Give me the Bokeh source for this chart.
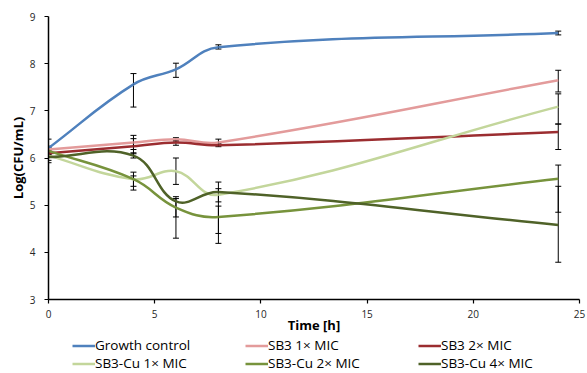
import math
from bokeh.plotting import figure
from bokeh.layouts import column
from bokeh.models import (ColumnDataSource, Whisker, TeeHead, Legend, LegendItem,
                          FixedTicker, Range1d)
from bokeh.embed import file_html
from bokeh.resources import INLINE

# ---------------- data ----------------
times = [0, 4, 6, 8, 24]
series_names = ["Growth control", "SB3 1× MIC", "SB3 2× MIC",
                "SB3-Cu 1× MIC", "SB3-Cu 2× MIC", "SB3-Cu 4× MIC"]

growth = [6.21, 7.56, 7.88, 8.35, 8.65]
sb3_1x = [6.18, 6.33, 6.40, 6.33, 7.65]
sb3_2x = [6.10, 6.25, 6.33, 6.27, 6.55]
cu_1x = [6.05, 5.55, 5.72, 5.22, 7.09]
cu_2x = [6.15, 5.55, 4.95, 4.75, 5.56]
cu_4x = [6.02, 6.05, 5.08, 5.28, 4.58]

growth_up = [6.40, 7.79, 8.01, 8.40, 8.69]
growth_lo = [6.02, 7.08, 7.71, 8.31, 8.61]
sb3_1x_up = [6.25, 6.48, 6.43, 6.40, 7.86]
sb3_1x_lo = [6.11, 6.18, 6.37, 6.27, 7.40]
sb3_2x_up = [6.16, 6.41, 6.36, 6.31, 6.72]
sb3_2x_lo = [6.04, 6.09, 6.27, 6.24, 6.18]
cu_1x_up = [6.10, 5.70, 6.00, 5.35, 7.36]
cu_1x_lo = [5.95, 5.40, 5.44, 4.40, 6.72]
cu_2x_up = [6.22, 5.62, 5.14, 4.98, 5.85]
cu_2x_lo = [6.08, 5.32, 4.75, 4.19, 4.85]
cu_4x_up = [6.08, 6.11, 5.18, 5.49, 5.40]
cu_4x_lo = [5.90, 6.00, 4.30, 5.07, 3.79]

x_ticks = [0, 5, 10, 15, 20, 25]
y_ticks = [3, 4, 5, 6, 7, 8, 9]

colors = ["#4F81BD", "#E39B9B", "#9B2D30", "#C3D69B", "#77933C", "#4F6228"]

values = [growth, sb3_1x, sb3_2x, cu_1x, cu_2x, cu_4x]
uppers = [growth_up, sb3_1x_up, sb3_2x_up, cu_1x_up, cu_2x_up, cu_4x_up]
lowers = [growth_lo, sb3_1x_lo, sb3_2x_lo, cu_1x_lo, cu_2x_lo, cu_4x_lo]

# ---------------- main figure ----------------
W = 587
H_MAIN, H_LEG = 336, 37
ML, MR, MT, MB = 48, 8, 16, 36
p = figure(width=W, height=H_MAIN, x_range=Range1d(0, 25), y_range=Range1d(3, 9),
           output_backend="svg", toolbar_location=None,
           min_border_left=ML, min_border_right=MR, min_border_top=MT,
           min_border_bottom=MB)
p.outline_line_color = None
p.xgrid.visible = False
p.ygrid.visible = False
p.background_fill_color = "white"
p.border_fill_color = "white"

# pixel scale factors (for smoothing geometry only)
SX = (W - ML - MR) / 25.0
SY = (H_MAIN - MT - MB) / 6.0


def smooth_segments(xs, ys, k=0.4):
    P = [(x * SX, y * SY) for x, y in zip(xs, ys)]
    n = len(P)
    out = {k_: [] for k_ in ["x0", "y0", "x1", "y1", "cx0", "cy0", "cx1", "cy1"]}
    for i in range(n - 1):
        p0 = P[i - 1] if i > 0 else P[i]
        p1 = P[i]
        p2 = P[i + 1]
        p3 = P[i + 2] if i + 2 < n else P[i + 1]
        d01 = math.dist(p0, p1)
        d12 = math.dist(p1, p2)
        d23 = math.dist(p2, p3)
        f1 = k * d12 / (d01 + d12) if (d01 + d12) > 0 else 0
        f2 = k * d12 / (d12 + d23) if (d12 + d23) > 0 else 0
        c1 = (p1[0] + (p2[0] - p0[0]) * f1, p1[1] + (p2[1] - p0[1]) * f1)
        c2 = (p2[0] - (p3[0] - p1[0]) * f2, p2[1] - (p3[1] - p1[1]) * f2)
        out["x0"].append(p1[0] / SX); out["y0"].append(p1[1] / SY)
        out["x1"].append(p2[0] / SX); out["y1"].append(p2[1] / SY)
        out["cx0"].append(c1[0] / SX); out["cy0"].append(c1[1] / SY)
        out["cx1"].append(c2[0] / SX); out["cy1"].append(c2[1] / SY)
    return out


for vals, col in zip(values, colors):
    src = ColumnDataSource(smooth_segments(times, vals))
    p.bezier(x0="x0", y0="y0", x1="x1", y1="y1", cx0="cx0", cy0="cy0",
             cx1="cx1", cy1="cy1", source=src, line_color=col, line_width=2.5)

for up, lo in zip(uppers, lowers):
    esrc = ColumnDataSource(dict(x=times, upper=up, lower=lo))
    w = Whisker(base="x", upper="upper", lower="lower", source=esrc,
                line_color="black", line_width=1,
                upper_head=TeeHead(size=6, line_color="black", line_width=1),
                lower_head=TeeHead(size=6, line_color="black", line_width=1))
    p.add_layout(w)

# axes
for ax in (p.xaxis[0], p.yaxis[0]):
    ax.axis_line_color = "black"
    ax.axis_line_width = 1.5
    ax.major_tick_line_color = "black"
    ax.major_tick_line_width = 1.2
    ax.major_tick_out = 4
    ax.major_tick_in = 0
    ax.minor_tick_line_color = None
    ax.major_label_text_font = "Open Sans"
    ax.major_label_text_font_size = "10px"
    ax.major_label_text_color = "#262626"
    ax.axis_label_text_font = "Open Sans"
    ax.axis_label_text_font_size = "13px"
    ax.axis_label_text_font_style = "bold"
    ax.axis_label_text_color = "black"

p.xaxis.ticker = FixedTicker(ticks=x_ticks)
p.yaxis.ticker = FixedTicker(ticks=y_ticks)
p.xaxis.axis_label = "Time [h]"
p.yaxis.axis_label = "Log(CFU/mL)"
p.xaxis.major_label_standoff = 6
p.yaxis.major_label_standoff = 9
p.xaxis.axis_label_standoff = -5
p.yaxis.axis_label_standoff = 0

# ---------------- legend strip ----------------
pl = figure(width=W, height=H_LEG, x_range=Range1d(0, 1), y_range=Range1d(0, 1),
            output_backend="svg", toolbar_location=None, min_border=0,
            x_axis_type=None, y_axis_type=None)
pl.outline_line_color = None
pl.xgrid.visible = False
pl.ygrid.visible = False
pl.border_fill_color = "white"

# legend-key renderers (kept outside the visible range of this strip)
leg_renderers = [pl.line(x=[-2, -1], y=[-2, -2], line_color=c, line_width=2.5)
                 for c in colors]

legend = Legend(
    items=[LegendItem(label=n, renderers=[r]) for n, r in zip(series_names, leg_renderers)],
    location=(24, 1), orientation="horizontal", ncols=3,
    label_text_font="Open Sans", label_text_font_size="13.5px", label_text_color="black",
    glyph_width=23, glyph_height=17, label_height=17, label_standoff=0,
    label_width=150, spacing=0, padding=0, margin=0,
    border_line_color=None, background_fill_alpha=0,
)
pl.add_layout(legend)

layout = column(p, pl, spacing=0)
open("out.html", "w").write(file_html(layout, INLINE))
